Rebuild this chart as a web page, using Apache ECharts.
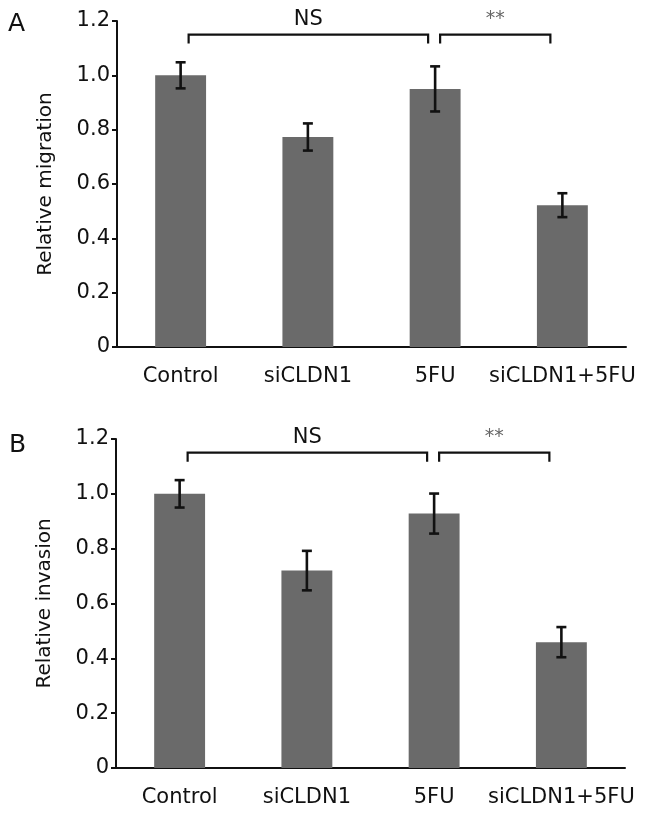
<!DOCTYPE html>
<html><head><meta charset="utf-8">
<script src="https://cdn.jsdelivr.net/npm/echarts@6/dist/echarts.min.js"></script>
<style>html,body{margin:0;padding:0;background:#fff}#c{width:646px;height:815px}</style>
</head><body><div id="c"></div>
<script>
var categories = ['Control', 'siCLDN1', '5FU', 'siCLDN1+5FU'];
var migration = [1.00, 0.773, 0.950, 0.522];
var migrationErr = [0.048, 0.050, 0.083, 0.044];
var invasion = [1.00, 0.720, 0.928, 0.459];
var invasionErr = [0.050, 0.072, 0.073, 0.055];
var yTicks = [0, 0.2, 0.4, 0.6, 0.8, 1.0, 1.2];
var bracketPairs = [[0, 2], [2, 3]];
var bracketLabels = ['NS', '**'];
var bracketLevel = 1.15;

var FONT = '"DejaVu Sans", Verdana, sans-serif';
var chart = echarts.init(document.getElementById('c'), null, {renderer: 'canvas'});

function errSeries(idx, vals, errs) {
  return {
    type: 'custom', xAxisIndex: idx, yAxisIndex: idx, z: 5,
    data: vals.map(function (v, i) { return [i, v, errs[i]]; }),
    renderItem: function (params, api) {
      var x = api.value(0), v = api.value(1), e = api.value(2);
      var hi = api.coord([x, v + e]), lo = api.coord([x, v - e]);
      var w = 5;
      var st = {stroke: '#111', lineWidth: 2.6};
      return {type: 'group', children: [
        {type: 'line', shape: {x1: hi[0], y1: hi[1], x2: lo[0], y2: lo[1]}, style: st},
        {type: 'line', shape: {x1: hi[0] - w, y1: hi[1], x2: hi[0] + w, y2: hi[1]}, style: st},
        {type: 'line', shape: {x1: lo[0] - w, y1: lo[1], x2: lo[0] + w, y2: lo[1]}, style: st}
      ]};
    }
  };
}

function bracketSeries(idx) {
  var offs = [[8, -7], [5, -12]];
  return {
    type: 'custom', xAxisIndex: idx, yAxisIndex: idx, z: 6, clip: false,
    data: bracketPairs.map(function (p, i) { return [p[0], p[1], bracketLevel, i]; }),
    renderItem: function (params, api) {
      var a = api.value(0), b = api.value(1), lvl = api.value(2), k = api.value(3);
      var p1 = api.coord([a, lvl]), p2 = api.coord([b, lvl]);
      var x1 = p1[0] + offs[k][0], x2 = p2[0] + offs[k][1], y = p1[1];
      var drop = 9;
      var st = {stroke: '#111', lineWidth: 2.2, fill: null};
      var label = bracketLabels[k];
      var isStar = label === '**';
      return {type: 'group', children: [
        {type: 'polyline', shape: {points: [[x1, y + drop], [x1, y], [x2, y], [x2, y + drop]]}, style: st},
        {type: 'text', style: {
          text: label, x: (x1 + x2) / 2, y: y - (isStar ? 6 : 5),
          align: 'center', verticalAlign: 'bottom',
          font: (isStar ? '19px ' : '21px ') + FONT,
          fill: isStar ? '#666' : '#111'
        }}
      ]};
    }
  };
}

var grids = [
  {left: 117, right: 20, top: 21, height: 326},
  {left: 116, right: 21, top: 439, height: 329}
];

function xAx(idx) {
  return {
    type: 'category', gridIndex: idx, data: categories,
    axisLine: {lineStyle: {color: '#111', width: 2}},
    axisTick: {length: 6, interval: 0, lineStyle: {color: '#111', width: 2}},
    axisLabel: {color: '#111', fontSize: 21, fontFamily: FONT, margin: 19, interval: 0}
  };
}
function yAx(idx, name) {
  return {
    type: 'value', gridIndex: idx, min: yTicks[0], max: yTicks[yTicks.length - 1], interval: 0.2,
    name: name, nameLocation: 'middle', nameGap: 61, nameRotate: 90,
    nameTextStyle: {color: '#111', fontSize: 20, fontFamily: FONT},
    axisLine: {show: true, lineStyle: {color: '#111', width: 2}},
    axisTick: {show: true, length: 5, lineStyle: {color: '#111', width: 2}},
    splitLine: {show: false},
    axisLabel: {color: '#111', fontSize: 21, fontFamily: FONT, margin: 7,
      formatter: function (v) { return v === 0 ? '0' : v.toFixed(1); }}
  };
}

chart.setOption({
  animation: false,
  backgroundColor: '#fff',
  grid: grids,
  xAxis: [xAx(0), xAx(1)],
  yAxis: [yAx(0, 'Relative migration'), yAx(1, 'Relative invasion')],
  graphic: [
    {type: 'text', left: 8, top: 12, style: {text: 'A', font: '25px ' + FONT, fill: '#111'}},
    {type: 'text', left: 9, top: 433, style: {text: 'B', font: '25px ' + FONT, fill: '#111'}}
  ],
  series: [
    {type: 'bar', xAxisIndex: 0, yAxisIndex: 0, data: migration, barWidth: '40%',
      itemStyle: {color: '#6a6a6a'}},
    {type: 'bar', xAxisIndex: 1, yAxisIndex: 1, data: invasion, barWidth: '40%',
      itemStyle: {color: '#6a6a6a'}},
    errSeries(0, migration, migrationErr),
    errSeries(1, invasion, invasionErr),
    bracketSeries(0),
    bracketSeries(1)
  ]
});
</script></body></html>
